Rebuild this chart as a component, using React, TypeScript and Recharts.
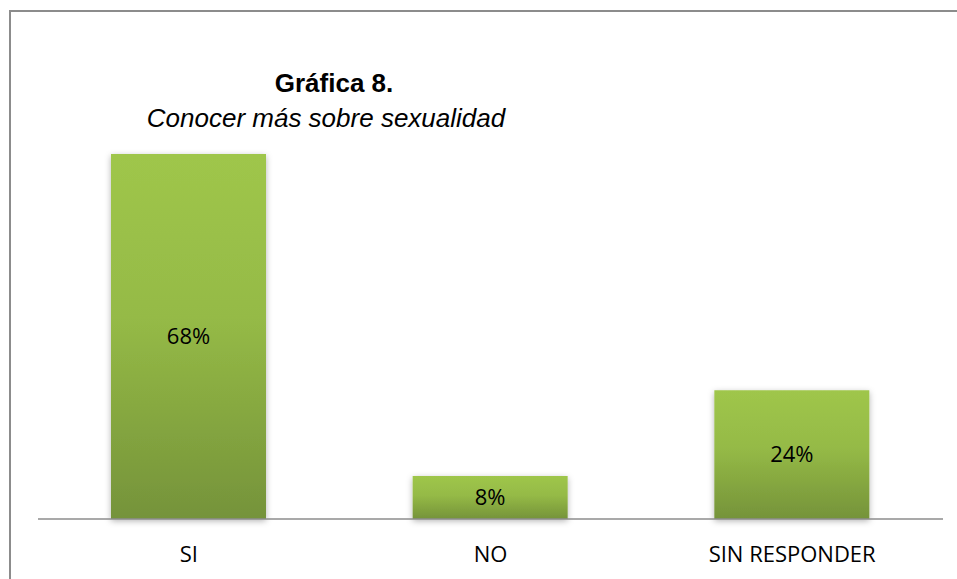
import React from "react";
import { BarChart, Bar, XAxis, YAxis, LabelList } from "recharts";

const categories = ["SI", "NO", "SIN RESPONDER"];
const values = [68, 8, 24];
const titleText = "Gráfica 8.";
const subtitleText = "Conocer más sobre sexualidad";

const data = categories.map((c, i) => ({ name: c, value: values[i] }));

const W = 957;
const H = 579;

const CategoryTick = (props: any) => {
  const { x, y, payload } = props;
  return (
    <text
      x={x}
      y={y + 35}
      textAnchor="middle"
      fontFamily="'Open Sans', sans-serif"
      fontSize={22}
      fill="#000"
    >
      {payload.value}
    </text>
  );
};

export default function App() {
  return (
    <div style={{ position: "relative", width: W, height: H, overflow: "hidden", background: "#fff" }}>
      <style>{"html,body{margin:0;padding:0;overflow:hidden;}"}</style>
      <div
        style={{
          position: "absolute",
          left: 9,
          top: 10,
          width: W,
          height: H,
          borderLeft: "2px solid #8c8c8c",
          borderTop: "2px solid #8c8c8c",
          boxSizing: "border-box",
        }}
      />
      <svg width={W} height={H} style={{ position: "absolute", left: 0, top: 0 }}>
        <text
          x={334}
          y={92}
          textAnchor="middle"
          fontFamily="'Liberation Sans', Arial, sans-serif"
          fontWeight="bold"
          fontSize={26}
          fill="#000"
        >
          {titleText}
        </text>
        <text
          x={326}
          y={127}
          textAnchor="middle"
          fontFamily="'Liberation Sans', Arial, sans-serif"
          fontStyle="italic"
          fontSize={26}
          fill="#000"
        >
          {subtitleText}
        </text>
      </svg>
      <div style={{ position: "absolute", left: 0, top: 0 }}>
        <BarChart
          width={W}
          height={H}
          data={data}
          margin={{ top: 154, right: 14, left: 38, bottom: 20 }}
        >
          <defs>
            <linearGradient id="barGrad" x1="0" y1="0" x2="0" y2="1">
              <stop offset="0%" stopColor="#9fc64b" />
              <stop offset="45%" stopColor="#95ba46" />
              <stop offset="100%" stopColor="#75933a" />
            </linearGradient>
            <filter id="barShadow" x="-20%" y="-20%" width="140%" height="140%">
              <feDropShadow dx="0" dy="2" stdDeviation="3" floodColor="#000" floodOpacity="0.3" />
            </filter>
          </defs>
          <YAxis hide domain={[0, 68]} />
          <XAxis
            dataKey="name"
            height={40}
            axisLine={{ stroke: "#8c8c8c", strokeWidth: 1.5 }}
            tickLine={false}
            tick={<CategoryTick />}
            interval={0}
          />
          <Bar
            dataKey="value"
            barSize={155}
            fill="url(#barGrad)"
            filter="url(#barShadow)"
            isAnimationActive={false}
          >
            <LabelList
              dataKey="value"
              position="center"
              formatter={(v: any) => `${v}%`}
              fill="#000"
              fontSize={22}
              fontFamily="'Open Sans', sans-serif"
            />
          </Bar>
        </BarChart>
      </div>
    </div>
  );
}
